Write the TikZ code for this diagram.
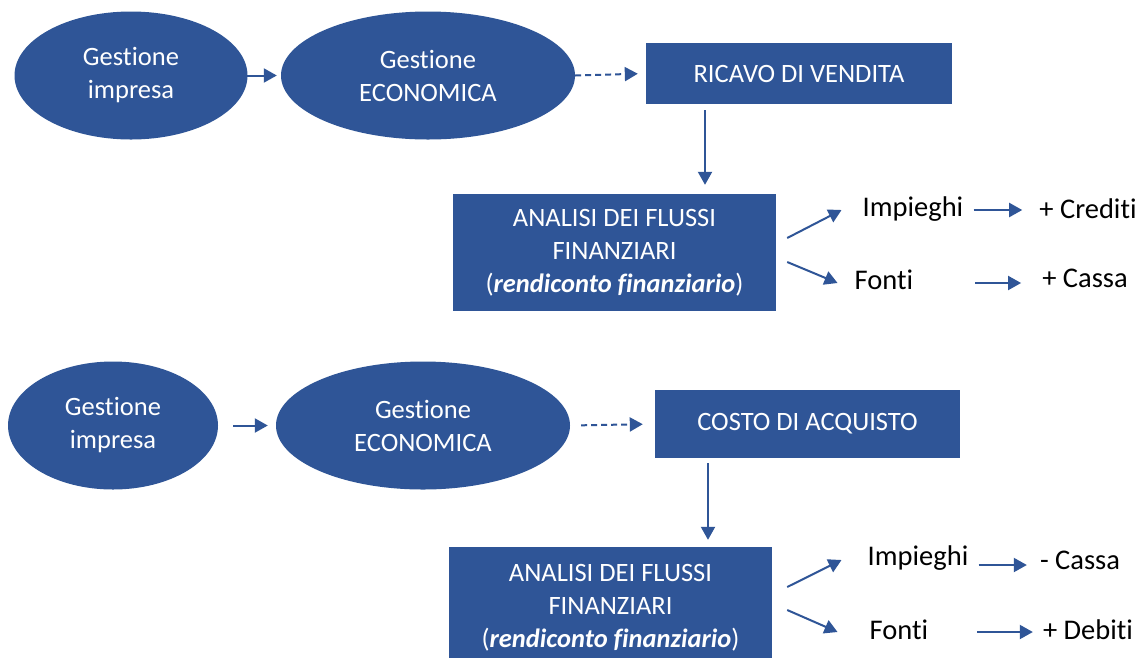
\documentclass[tikz,border=0pt]{standalone}
\usepackage{fontspec}
\setmainfont[Ligatures={NoCommon},Contextuals={NoAlternate}]{Carlito}
\usetikzlibrary{shapes.geometric,arrows.meta}
\definecolor{bluefill}{HTML}{2F5597}
\tikzset{
  ell/.style={ellipse,fill=bluefill,draw=none,inner sep=0pt,minimum height=128pt,text=white,align=center,font=\fontsize{26.5}{33}\selectfont},
  box/.style={rectangle,fill=bluefill,draw=none,inner sep=0pt,text=white,align=center,font=\fontsize{26.5}{33}\selectfont},
  lbl/.style={inner sep=0pt,text=black,font=\fontsize{28.5}{34}\selectfont},
  arr/.style={draw=bluefill,line width=2pt,-{Triangle[length=13pt,width=14pt]}},
  dasharr/.style={arr,dash pattern=on 6pt off 4pt}
}
\begin{document}
\begin{tikzpicture}[x=1pt,y=-1pt]
\clip (0,0) rectangle (1142,657);
\fill[white] (0,0) rectangle (1142,657);
% ---------- top ----------
\node[ell,minimum width=233pt] (e1) at (131,75.5) {Gestione\\impresa};
\node[ell,minimum width=294pt] (e2) at (428,75.5) {Gestione\\ECONOMICA};
\node[box,minimum width=306pt,minimum height=61pt] (r1) at (799,73.5) {RICAVO DI VENDITA};
\node[box,minimum width=323pt,minimum height=117pt] (a1) at (614.5,252.5) {ANALISI DEI FLUSSI\\FINANZIARI\\(\textbf{\textit{rendiconto finanziario}})};
\node[lbl] (imp1) at (913,209) {Impieghi};
\node[lbl] (fon1) at (884,280) {Fonti};
\node[lbl] (cred) at (1088,209) {+ Crediti};
\node[lbl] (cas1) at (1085,278) {+ Cassa};
\draw[arr,shorten <=-4pt,shorten >=4pt] (e1.east) -- (e2.west);
\draw[dasharr,shorten >=8pt] (e2.east) -- (r1.west);
\draw[arr,shorten <=6pt,shorten >=9pt] ([xshift=-94pt]r1.south) -- ([xshift=-94pt]r1.south |- a1.north);
\draw[arr] ([xshift=11pt,yshift=14.5pt]a1.east) -- ([xshift=-21pt,yshift=-1pt]imp1.west);
\draw[arr] ([xshift=11pt,yshift=-9.5pt]a1.east) -- ([xshift=-17pt,yshift=-3pt]fon1.west);
\draw[arr,shorten <=10pt,shorten >=17pt] ([yshift=-1pt]imp1.east) -- ([yshift=-1pt]cred.west);
\draw[arr,shorten <=62pt,shorten >=21pt] ([yshift=-3pt]fon1.east) -- ([yshift=-3pt]fon1.east -| cas1.west);
% ---------- bottom ----------
\node[ell,minimum width=210pt] (be1) at (113,425.5) {Gestione\\impresa};
\node[ell,minimum width=294pt] (be2) at (423,425.5) {Gestione\\ECONOMICA};
\node[box,minimum width=305pt,minimum height=68pt] (c2) at (807.5,424) {COSTO DI ACQUISTO};
\node[box,minimum width=323pt,minimum height=122pt] (a2) at (610.5,608) {ANALISI DEI FLUSSI\\FINANZIARI\\(\textbf{\textit{rendiconto finanziario}})};
\node[lbl] (imp2) at (918,558) {Impieghi};
\node[lbl] (fon2) at (899,630) {Fonti};
\node[lbl] (mcas) at (1080,560) {- Cassa};
\node[lbl] (deb) at (1088,630) {+ Debiti};
\draw[arr,shorten <=15pt,shorten >=8pt] (be1.east) -- (be2.west);
\draw[dasharr,shorten <=11pt,shorten >=12pt] (be2.east) -- (c2.west);
\draw[arr,shorten <=5pt,shorten >=7pt] ([xshift=-99.5pt]c2.south) -- ([xshift=-99.5pt]c2.south |- a2.north);
\draw[arr] ([xshift=15pt,yshift=21pt]a2.east) -- ([xshift=-26pt,yshift=-2pt]imp2.west);
\draw[arr] ([xshift=15pt,yshift=-2pt]a2.east) -- ([xshift=-32pt,yshift=-2pt]fon2.west);
\draw[arr,shorten <=10pt,shorten >=13pt] ([yshift=-7pt]imp2.east) -- ([yshift=-7pt]imp2.east -| mcas.west);
\draw[arr,shorten <=49pt,shorten >=10pt] ([yshift=-2pt]fon2.east) -- ([yshift=-2pt]fon2.east -| deb.west);
\end{tikzpicture}
\end{document}
